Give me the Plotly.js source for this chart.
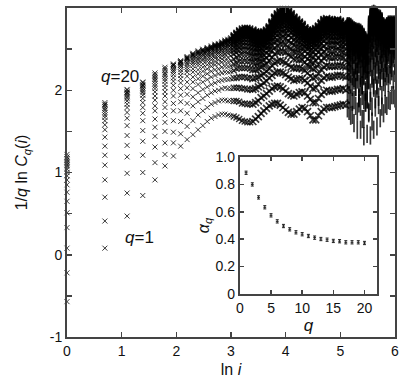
<!DOCTYPE html>
<html>
<head>
<meta charset="utf-8">
<script src="https://cdn.plot.ly/plotly-3.0.1.min.js"></script>
<style>html,body{margin:0;padding:0;background:#fff;}#chart{width:400px;height:384px;}</style>
</head>
<body>
<div id="chart"></div>
<script>
// x positions: ln i
const lnI = [0, 0.693, 1.099, 1.386, 1.609, 1.792, 1.946, 2.079, 2.197, 2.303, 2.398, 2.485, 2.565, 2.639, 2.708, 2.773, 2.833, 2.890, 2.944, 2.996,
 3.05, 3.10, 3.15, 3.20, 3.25, 3.30, 3.35, 3.40, 3.45, 3.50, 3.55, 3.60, 3.65, 3.70, 3.75, 3.80, 3.85, 3.90, 3.95, 4.00, 4.05, 4.10, 4.15, 4.20, 4.25, 4.30, 4.35, 4.40, 4.45, 4.50, 4.55, 4.60, 4.65, 4.70, 4.75, 4.80, 4.85, 4.90, 4.95, 5.00, 5.05, 5.10,
 5.13, 5.16, 5.19, 5.22, 5.25, 5.28, 5.31, 5.34, 5.37, 5.40, 5.43, 5.46, 5.49, 5.52, 5.55, 5.58, 5.61, 5.64, 5.67, 5.70, 5.73, 5.76, 5.79, 5.82, 5.85, 5.88, 5.91, 5.94, 5.97, 6.00];

// 1/q ln Cq(i) for q = 1..20
const q1 = [-0.57, 0.08, 0.47, 0.72, 0.91, 1.08, 1.20, 1.32, 1.40, 1.46, 1.52, 1.57, 1.62, 1.66, 1.68, 1.70, 1.71, 1.71, 1.70, 1.69,
 1.68, 1.67, 1.65, 1.63, 1.62, 1.61, 1.61, 1.62, 1.65, 1.68, 1.72, 1.75, 1.78, 1.81, 1.83, 1.84, 1.84, 1.82, 1.79, 1.76, 1.73, 1.71, 1.71, 1.74, 1.77, 1.79, 1.78, 1.74, 1.69, 1.64, 1.64, 1.69, 1.74, 1.77, 1.79, 1.79, 1.79, 1.80, 1.81, 1.82, 1.83, 1.82,
 1.78, 1.75, 1.69, 1.70, 1.60, 1.81, 1.52, 1.84, 1.52, 1.65, 1.44, 1.85, 1.47, 1.74, 1.45, 1.62, 1.52, 1.89, 1.56, 1.82, 1.66, 1.80, 1.72, 1.83, 1.81, 1.88, 1.87, 1.94, 1.94, 1.90];
const q2 = [-0.22, 0.41, 0.75, 1.00, 1.12, 1.22, 1.36, 1.47, 1.56, 1.63, 1.70, 1.75, 1.79, 1.83, 1.85, 1.87, 1.88, 1.88, 1.87, 1.87,
 1.87, 1.87, 1.86, 1.84, 1.84, 1.83, 1.83, 1.83, 1.85, 1.87, 1.91, 1.93, 1.96, 1.99, 2.02, 2.04, 2.05, 2.04, 2.02, 1.99, 1.96, 1.94, 1.93, 1.95, 1.97, 1.98, 1.97, 1.93, 1.89, 1.85, 1.85, 1.90, 1.95, 1.98, 2.00, 1.99, 1.99, 2.00, 2.01, 2.01, 2.02, 2.00,
 1.97, 1.94, 1.90, 1.86, 1.88, 2.04, 1.74, 1.91, 1.80, 1.93, 1.65, 1.85, 1.89, 1.72, 1.87, 1.80, 2.03, 1.79, 2.02, 1.92, 2.11, 1.94, 2.10, 2.04, 2.17, 2.09, 2.18, 2.23, 2.13, 2.30];
const q3 = [0.08, 0.70, 0.99, 1.21, 1.31, 1.36, 1.49, 1.62, 1.72, 1.81, 1.86, 1.90, 1.94, 1.97, 1.99, 2.00, 2.02, 2.03, 2.02, 2.02,
 2.03, 2.03, 2.03, 2.02, 2.02, 2.01, 2.01, 2.01, 2.02, 2.04, 2.06, 2.09, 2.11, 2.15, 2.18, 2.21, 2.22, 2.22, 2.21, 2.19, 2.16, 2.14, 2.12, 2.13, 2.14, 2.14, 2.12, 2.09, 2.05, 2.02, 2.03, 2.07, 2.12, 2.15, 2.17, 2.16, 2.16, 2.17, 2.18, 2.18, 2.17, 2.16,
 2.13, 2.10, 2.07, 2.04, 2.15, 2.04, 2.13, 1.90, 2.04, 2.06, 1.88, 1.98, 1.89, 2.12, 1.97, 2.14, 2.06, 2.19, 2.06, 2.19, 2.15, 2.24, 2.16, 2.21, 2.27, 2.20, 2.38, 2.27, 2.44, 2.21];
const q4 = [0.33, 0.91, 1.19, 1.38, 1.44, 1.50, 1.63, 1.75, 1.84, 1.92, 1.97, 2.01, 2.04, 2.07, 2.09, 2.11, 2.12, 2.13, 2.13, 2.14,
 2.15, 2.15, 2.16, 2.16, 2.16, 2.15, 2.15, 2.14, 2.15, 2.16, 2.18, 2.20, 2.23, 2.26, 2.30, 2.33, 2.35, 2.36, 2.35, 2.33, 2.31, 2.28, 2.27, 2.27, 2.27, 2.26, 2.24, 2.21, 2.17, 2.15, 2.16, 2.20, 2.25, 2.28, 2.30, 2.29, 2.29, 2.29, 2.30, 2.30, 2.29, 2.28,
 2.25, 2.23, 2.20, 2.17, 2.12, 2.22, 2.22, 2.08, 2.15, 2.06, 2.18, 2.00, 2.11, 2.13, 2.28, 2.18, 2.28, 2.23, 2.31, 2.25, 2.31, 2.33, 2.24, 2.38, 2.30, 2.46, 2.31, 2.45, 2.39, 2.48];
const q5 = [0.51, 1.09, 1.33, 1.51, 1.55, 1.61, 1.75, 1.86, 1.95, 2.02, 2.07, 2.10, 2.13, 2.16, 2.18, 2.20, 2.21, 2.22, 2.22, 2.23,
 2.24, 2.26, 2.27, 2.27, 2.27, 2.27, 2.26, 2.25, 2.25, 2.26, 2.28, 2.30, 2.32, 2.36, 2.40, 2.44, 2.46, 2.47, 2.47, 2.46, 2.43, 2.41, 2.38, 2.38, 2.37, 2.37, 2.34, 2.30, 2.28, 2.26, 2.27, 2.31, 2.36, 2.39, 2.41, 2.40, 2.39, 2.40, 2.41, 2.40, 2.39, 2.37,
 2.35, 2.33, 2.31, 2.28, 2.26, 2.30, 2.23, 2.32, 2.18, 2.26, 2.17, 2.24, 2.12, 2.31, 2.33, 2.40, 2.36, 2.39, 2.41, 2.35, 2.47, 2.38, 2.46, 2.33, 2.45, 2.43, 2.53, 2.41, 2.51, 2.53];
const q6 = [0.65, 1.21, 1.45, 1.63, 1.65, 1.70, 1.84, 1.94, 2.03, 2.10, 2.14, 2.17, 2.20, 2.23, 2.25, 2.26, 2.28, 2.29, 2.29, 2.30,
 2.32, 2.33, 2.35, 2.35, 2.36, 2.35, 2.35, 2.34, 2.33, 2.34, 2.35, 2.37, 2.39, 2.43, 2.48, 2.52, 2.54, 2.56, 2.56, 2.55, 2.52, 2.50, 2.47, 2.46, 2.45, 2.44, 2.41, 2.38, 2.35, 2.34, 2.36, 2.39, 2.44, 2.47, 2.49, 2.48, 2.47, 2.48, 2.49, 2.48, 2.46, 2.45,
 2.43, 2.41, 2.39, 2.36, 2.44, 2.31, 2.38, 2.31, 2.37, 2.26, 2.30, 2.24, 2.26, 2.35, 2.45, 2.48, 2.43, 2.52, 2.45, 2.54, 2.43, 2.51, 2.45, 2.51, 2.42, 2.53, 2.56, 2.49, 2.55, 2.50];
const q7 = [0.76, 1.32, 1.57, 1.72, 1.75, 1.79, 1.93, 2.02, 2.10, 2.16, 2.20, 2.23, 2.26, 2.29, 2.31, 2.32, 2.34, 2.35, 2.35, 2.36,
 2.38, 2.40, 2.42, 2.43, 2.43, 2.43, 2.42, 2.41, 2.40, 2.40, 2.42, 2.43, 2.45, 2.49, 2.54, 2.59, 2.61, 2.63, 2.64, 2.63, 2.60, 2.58, 2.55, 2.53, 2.52, 2.51, 2.48, 2.44, 2.42, 2.41, 2.43, 2.46, 2.51, 2.54, 2.56, 2.55, 2.54, 2.55, 2.56, 2.54, 2.53, 2.51,
 2.49, 2.48, 2.46, 2.43, 2.43, 2.47, 2.38, 2.42, 2.38, 2.39, 2.33, 2.32, 2.31, 2.42, 2.56, 2.52, 2.61, 2.51, 2.58, 2.54, 2.60, 2.50, 2.54, 2.55, 2.50, 2.57, 2.55, 2.63, 2.55, 2.61];
const q8 = [0.85, 1.43, 1.66, 1.79, 1.81, 1.86, 2.00, 2.09, 2.17, 2.22, 2.25, 2.28, 2.31, 2.33, 2.35, 2.37, 2.38, 2.40, 2.40, 2.42,
 2.44, 2.46, 2.48, 2.49, 2.49, 2.49, 2.48, 2.47, 2.46, 2.46, 2.47, 2.48, 2.51, 2.54, 2.60, 2.64, 2.67, 2.69, 2.70, 2.69, 2.67, 2.64, 2.61, 2.60, 2.58, 2.56, 2.53, 2.50, 2.48, 2.47, 2.49, 2.52, 2.57, 2.60, 2.62, 2.61, 2.60, 2.60, 2.61, 2.60, 2.58, 2.56,
 2.55, 2.54, 2.52, 2.49, 2.52, 2.47, 2.49, 2.45, 2.45, 2.44, 2.38, 2.40, 2.33, 2.56, 2.55, 2.63, 2.62, 2.66, 2.58, 2.63, 2.65, 2.57, 2.58, 2.54, 2.62, 2.58, 2.64, 2.61, 2.66, 2.60];
const q9 = [0.91, 1.52, 1.73, 1.85, 1.88, 1.93, 2.06, 2.14, 2.22, 2.26, 2.30, 2.32, 2.35, 2.37, 2.39, 2.41, 2.42, 2.44, 2.45, 2.46,
 2.48, 2.50, 2.52, 2.54, 2.54, 2.54, 2.53, 2.52, 2.51, 2.51, 2.51, 2.53, 2.55, 2.59, 2.64, 2.69, 2.72, 2.74, 2.75, 2.75, 2.73, 2.70, 2.67, 2.65, 2.63, 2.61, 2.57, 2.54, 2.52, 2.52, 2.54, 2.57, 2.62, 2.65, 2.67, 2.66, 2.65, 2.65, 2.66, 2.65, 2.62, 2.61,
 2.59, 2.58, 2.57, 2.54, 2.53, 2.53, 2.52, 2.49, 2.52, 2.46, 2.48, 2.39, 2.41, 2.56, 2.68, 2.64, 2.70, 2.70, 2.65, 2.68, 2.65, 2.68, 2.59, 2.62, 2.61, 2.66, 2.63, 2.67, 2.65, 2.68];
const q10 = [0.96, 1.58, 1.79, 1.90, 1.93, 1.98, 2.11, 2.18, 2.25, 2.30, 2.33, 2.36, 2.38, 2.40, 2.42, 2.44, 2.45, 2.47, 2.48, 2.49,
 2.52, 2.54, 2.56, 2.58, 2.58, 2.58, 2.57, 2.56, 2.55, 2.54, 2.55, 2.56, 2.58, 2.62, 2.68, 2.73, 2.76, 2.78, 2.80, 2.79, 2.77, 2.74, 2.71, 2.69, 2.67, 2.64, 2.61, 2.58, 2.56, 2.56, 2.58, 2.61, 2.65, 2.69, 2.70, 2.69, 2.69, 2.69, 2.70, 2.68, 2.66, 2.64,
 2.63, 2.62, 2.60, 2.58, 2.58, 2.56, 2.55, 2.54, 2.53, 2.51, 2.49, 2.45, 2.43, 2.61, 2.70, 2.72, 2.73, 2.73, 2.72, 2.71, 2.70, 2.68, 2.64, 2.63, 2.65, 2.67, 2.68, 2.68, 2.69, 2.68];
const q11 = [1.00, 1.63, 1.83, 1.94, 1.98, 2.03, 2.15, 2.22, 2.28, 2.33, 2.36, 2.38, 2.41, 2.43, 2.45, 2.46, 2.48, 2.50, 2.51, 2.52,
 2.55, 2.57, 2.60, 2.61, 2.62, 2.62, 2.61, 2.59, 2.58, 2.57, 2.58, 2.59, 2.61, 2.65, 2.71, 2.76, 2.79, 2.82, 2.83, 2.83, 2.81, 2.78, 2.74, 2.72, 2.70, 2.67, 2.64, 2.61, 2.59, 2.59, 2.61, 2.64, 2.69, 2.72, 2.74, 2.73, 2.72, 2.72, 2.73, 2.71, 2.69, 2.67,
 2.66, 2.65, 2.64, 2.61, 2.61, 2.59, 2.58, 2.58, 2.57, 2.55, 2.52, 2.48, 2.46, 2.65, 2.74, 2.76, 2.77, 2.76, 2.75, 2.74, 2.74, 2.71, 2.67, 2.65, 2.68, 2.70, 2.70, 2.71, 2.71, 2.71];
const q12 = [1.04, 1.67, 1.87, 1.97, 2.02, 2.07, 2.19, 2.25, 2.31, 2.35, 2.38, 2.41, 2.43, 2.45, 2.47, 2.48, 2.50, 2.52, 2.53, 2.55,
 2.57, 2.60, 2.62, 2.64, 2.65, 2.65, 2.64, 2.62, 2.60, 2.60, 2.60, 2.61, 2.64, 2.67, 2.73, 2.79, 2.82, 2.85, 2.86, 2.86, 2.84, 2.81, 2.77, 2.75, 2.72, 2.70, 2.66, 2.63, 2.62, 2.62, 2.64, 2.67, 2.71, 2.75, 2.76, 2.75, 2.74, 2.75, 2.76, 2.74, 2.71, 2.69,
 2.68, 2.68, 2.66, 2.64, 2.63, 2.62, 2.61, 2.60, 2.59, 2.57, 2.54, 2.51, 2.48, 2.68, 2.77, 2.79, 2.80, 2.79, 2.78, 2.77, 2.76, 2.74, 2.69, 2.67, 2.70, 2.72, 2.72, 2.73, 2.73, 2.73];
const q13 = [1.07, 1.70, 1.90, 1.99, 2.05, 2.11, 2.22, 2.28, 2.33, 2.37, 2.40, 2.43, 2.45, 2.47, 2.49, 2.50, 2.52, 2.54, 2.55, 2.56,
 2.59, 2.62, 2.64, 2.66, 2.67, 2.67, 2.66, 2.64, 2.63, 2.62, 2.62, 2.63, 2.65, 2.69, 2.75, 2.81, 2.84, 2.87, 2.89, 2.88, 2.86, 2.83, 2.80, 2.77, 2.75, 2.72, 2.68, 2.65, 2.64, 2.64, 2.66, 2.69, 2.73, 2.77, 2.78, 2.77, 2.77, 2.77, 2.78, 2.76, 2.73, 2.71,
 2.70, 2.70, 2.68, 2.66, 2.65, 2.64, 2.63, 2.62, 2.61, 2.59, 2.57, 2.53, 2.50, 2.70, 2.80, 2.82, 2.83, 2.82, 2.81, 2.79, 2.78, 2.76, 2.71, 2.69, 2.71, 2.73, 2.74, 2.74, 2.74, 2.74];
const q14 = [1.09, 1.73, 1.92, 2.01, 2.08, 2.14, 2.24, 2.30, 2.35, 2.39, 2.42, 2.44, 2.47, 2.49, 2.51, 2.52, 2.54, 2.56, 2.56, 2.58,
 2.61, 2.64, 2.67, 2.68, 2.69, 2.69, 2.68, 2.66, 2.65, 2.64, 2.64, 2.65, 2.67, 2.71, 2.77, 2.83, 2.87, 2.89, 2.91, 2.91, 2.89, 2.86, 2.82, 2.79, 2.77, 2.74, 2.70, 2.67, 2.66, 2.66, 2.68, 2.71, 2.76, 2.80, 2.81, 2.80, 2.79, 2.79, 2.80, 2.78, 2.75, 2.73,
 2.72, 2.72, 2.71, 2.68, 2.67, 2.66, 2.65, 2.65, 2.64, 2.62, 2.59, 2.55, 2.52, 2.73, 2.82, 2.84, 2.85, 2.84, 2.83, 2.81, 2.81, 2.78, 2.73, 2.71, 2.73, 2.75, 2.75, 2.76, 2.76, 2.76];
const q15 = [1.11, 1.76, 1.94, 2.03, 2.11, 2.17, 2.26, 2.31, 2.37, 2.41, 2.44, 2.46, 2.48, 2.50, 2.52, 2.53, 2.55, 2.57, 2.58, 2.60,
 2.63, 2.65, 2.68, 2.70, 2.71, 2.71, 2.70, 2.68, 2.66, 2.65, 2.66, 2.67, 2.69, 2.73, 2.79, 2.84, 2.88, 2.91, 2.93, 2.93, 2.91, 2.88, 2.84, 2.81, 2.78, 2.76, 2.72, 2.69, 2.67, 2.68, 2.70, 2.73, 2.77, 2.81, 2.82, 2.81, 2.80, 2.80, 2.81, 2.79, 2.77, 2.75,
 2.74, 2.73, 2.72, 2.70, 2.69, 2.68, 2.66, 2.66, 2.65, 2.63, 2.60, 2.57, 2.54, 2.75, 2.84, 2.86, 2.87, 2.86, 2.85, 2.83, 2.82, 2.80, 2.74, 2.72, 2.74, 2.76, 2.77, 2.77, 2.77, 2.77];
const q16 = [1.13, 1.78, 1.96, 2.05, 2.13, 2.19, 2.28, 2.33, 2.38, 2.42, 2.45, 2.47, 2.49, 2.51, 2.53, 2.54, 2.56, 2.58, 2.59, 2.61,
 2.64, 2.67, 2.69, 2.71, 2.72, 2.72, 2.71, 2.69, 2.68, 2.67, 2.67, 2.68, 2.70, 2.74, 2.80, 2.86, 2.89, 2.92, 2.94, 2.94, 2.92, 2.89, 2.85, 2.82, 2.80, 2.77, 2.73, 2.70, 2.69, 2.69, 2.71, 2.74, 2.78, 2.82, 2.83, 2.82, 2.81, 2.82, 2.83, 2.81, 2.78, 2.76,
 2.75, 2.75, 2.73, 2.71, 2.70, 2.69, 2.68, 2.67, 2.66, 2.64, 2.61, 2.58, 2.55, 2.76, 2.86, 2.88, 2.89, 2.88, 2.86, 2.84, 2.83, 2.81, 2.75, 2.73, 2.75, 2.77, 2.77, 2.78, 2.78, 2.78];
const q17 = [1.15, 1.80, 1.97, 2.06, 2.15, 2.21, 2.30, 2.34, 2.39, 2.43, 2.46, 2.48, 2.50, 2.52, 2.54, 2.55, 2.57, 2.59, 2.60, 2.62,
 2.65, 2.68, 2.71, 2.72, 2.73, 2.73, 2.72, 2.70, 2.69, 2.68, 2.68, 2.69, 2.71, 2.75, 2.81, 2.87, 2.90, 2.93, 2.95, 2.95, 2.93, 2.90, 2.86, 2.83, 2.81, 2.78, 2.74, 2.71, 2.70, 2.70, 2.72, 2.75, 2.80, 2.83, 2.84, 2.83, 2.83, 2.83, 2.84, 2.82, 2.79, 2.77,
 2.76, 2.76, 2.74, 2.72, 2.71, 2.70, 2.69, 2.68, 2.67, 2.66, 2.63, 2.59, 2.56, 2.77, 2.87, 2.89, 2.90, 2.89, 2.87, 2.85, 2.85, 2.82, 2.76, 2.74, 2.76, 2.78, 2.78, 2.78, 2.78, 2.78];
const q18 = [1.17, 1.82, 1.98, 2.07, 2.17, 2.24, 2.30, 2.34, 2.39, 2.43, 2.46, 2.48, 2.50, 2.52, 2.54, 2.55, 2.57, 2.59, 2.60, 2.62,
 2.65, 2.68, 2.71, 2.73, 2.74, 2.74, 2.73, 2.71, 2.69, 2.68, 2.68, 2.69, 2.71, 2.75, 2.81, 2.87, 2.91, 2.94, 2.96, 2.96, 2.94, 2.91, 2.87, 2.84, 2.81, 2.78, 2.74, 2.71, 2.70, 2.71, 2.73, 2.76, 2.80, 2.84, 2.85, 2.84, 2.83, 2.83, 2.84, 2.82, 2.79, 2.77,
 2.76, 2.76, 2.75, 2.73, 2.71, 2.70, 2.69, 2.69, 2.68, 2.66, 2.63, 2.59, 2.56, 2.78, 2.88, 2.90, 2.91, 2.90, 2.88, 2.86, 2.85, 2.82, 2.76, 2.74, 2.76, 2.78, 2.78, 2.78, 2.78, 2.78];
const q19 = [1.19, 1.83, 2.00, 2.09, 2.19, 2.26, 2.31, 2.35, 2.40, 2.44, 2.47, 2.49, 2.51, 2.53, 2.55, 2.56, 2.58, 2.60, 2.61, 2.63,
 2.66, 2.69, 2.72, 2.74, 2.75, 2.75, 2.74, 2.72, 2.70, 2.69, 2.69, 2.70, 2.72, 2.76, 2.82, 2.88, 2.92, 2.95, 2.97, 2.97, 2.95, 2.92, 2.88, 2.85, 2.82, 2.79, 2.75, 2.72, 2.71, 2.72, 2.74, 2.77, 2.81, 2.85, 2.86, 2.85, 2.84, 2.84, 2.85, 2.83, 2.80, 2.78,
 2.77, 2.77, 2.76, 2.74, 2.72, 2.71, 2.70, 2.70, 2.69, 2.67, 2.64, 2.60, 2.57, 2.79, 2.89, 2.91, 2.92, 2.91, 2.89, 2.87, 2.86, 2.83, 2.77, 2.75, 2.77, 2.79, 2.79, 2.79, 2.79, 2.79];
const q20 = [1.22, 1.85, 2.01, 2.10, 2.21, 2.28, 2.32, 2.36, 2.41, 2.45, 2.48, 2.50, 2.52, 2.54, 2.56, 2.57, 2.59, 2.61, 2.62, 2.64,
 2.67, 2.70, 2.73, 2.75, 2.76, 2.76, 2.75, 2.73, 2.71, 2.70, 2.70, 2.71, 2.73, 2.77, 2.83, 2.89, 2.93, 2.96, 2.98, 2.98, 2.96, 2.93, 2.89, 2.86, 2.83, 2.80, 2.76, 2.73, 2.72, 2.73, 2.75, 2.78, 2.82, 2.86, 2.87, 2.86, 2.85, 2.85, 2.86, 2.84, 2.81, 2.79,
 2.78, 2.78, 2.77, 2.75, 2.73, 2.72, 2.71, 2.71, 2.70, 2.68, 2.65, 2.61, 2.58, 2.80, 2.90, 2.92, 2.93, 2.92, 2.90, 2.88, 2.87, 2.84, 2.78, 2.76, 2.78, 2.80, 2.80, 2.80, 2.80, 2.80];

// inset: alpha_q vs q
const qVals = [1, 2, 3, 4, 5, 6, 7, 8, 9, 10, 11, 12, 13, 14, 15, 16, 17, 18, 19, 20];
const alphaQ = [0.885, 0.80, 0.705, 0.633, 0.574, 0.53, 0.496, 0.472, 0.45, 0.436, 0.423, 0.411, 0.401, 0.396, 0.387, 0.385, 0.377, 0.377, 0.377, 0.372];
const alphaErr = [0.012, 0.012, 0.012, 0.012, 0.012, 0.012, 0.012, 0.012, 0.012, 0.012, 0.012, 0.012, 0.012, 0.012, 0.012, 0.012, 0.012, 0.012, 0.012, 0.012];

const seriesList = [q1, q2, q3, q4, q5, q6, q7, q8, q9, q10, q11, q12, q13, q14, q15, q16, q17, q18, q19, q20];

const FONT = 'Liberation Sans, Arial, sans-serif';
const AX = '#444';

// marker styling by region: sparse crosses, dense crosses, noisy tail drawn as vertical streaks
const mSymbol = lnI.map(x => x < 5.12 ? 'x-thin-open' : 'line-ns-open');
const mSize = lnI.map(x => x < 3.0 ? 5 : (x < 3.4 ? 6 : (x < 5.12 ? 7 : 13)));
const mLine = lnI.map(x => x < 3.0 ? 1 : (x < 3.4 ? 1.4 : 1.7));

const traces = seriesList.map((ys, k) => ({
  type: 'scatter', mode: 'markers', x: lnI, y: ys, name: 'q=' + (k + 1),
  xaxis: 'x', yaxis: 'y', cliponaxis: false, hoverinfo: 'skip',
  marker: { symbol: mSymbol, size: mSize, opacity: 0.78, color: '#000', line: { width: mLine, color: '#000' } }
}));

traces.push({
  type: 'scatter', mode: 'markers', x: qVals, y: alphaQ, xaxis: 'x2', yaxis: 'y2',
  marker: { symbol: 'line-ew-open', size: 2, color: '#222', line: { width: 1, color: '#222' } },
  error_y: { type: 'data', array: alphaErr, visible: true, color: '#222', thickness: 1, width: 1.5 },
  cliponaxis: false
});

const axisBase = {
  showline: true, linecolor: AX, linewidth: 2, mirror: 'ticks',
  ticks: 'inside', ticklen: 5, tickwidth: 1.5, tickcolor: AX,
  showgrid: false, zeroline: false,
  tickfont: { family: FONT, size: 14, color: '#111' }
};

const layout = {
  width: 400, height: 384,
  margin: { l: 67, r: 5, t: 8, b: 47 },
  paper_bgcolor: '#fff', plot_bgcolor: '#fff',
  showlegend: false,
  font: { family: FONT, color: '#111' },
  xaxis: Object.assign({}, axisBase, {
    range: [0, 6], tickvals: [0, 1, 2, 3, 4, 5, 6], domain: [0, 1], anchor: 'y',
    title: { text: 'ln <i>i</i>', font: { family: FONT, size: 16, color: '#111' }, standoff: 6 }
  }),
  yaxis: Object.assign({}, axisBase, {
    range: [-1, 3], domain: [0, 1], anchor: 'x',
    tickvals: [-1, -0.5, 0, 0.5, 1, 1.5, 2, 2.5, 3],
    ticktext: ['-1', ' ', '0', ' ', '1', ' ', '2', ' ', '3'],
    title: { text: '1/<i>q</i> ln <i>C<sub>q</sub></i>(<i>i</i>)', font: { family: FONT, size: 16, color: '#111' }, standoff: 18 }
  }),
  xaxis2: Object.assign({}, axisBase, {
    domain: [0.527, 0.945], anchor: 'y2', range: [0, 22],
    tickvals: [0, 5, 10, 15, 20], ticklen: 4,
    title: { text: '<i>q</i>', font: { family: FONT, size: 17, color: '#111' }, standoff: 0 }
  }),
  yaxis2: Object.assign({}, axisBase, {
    domain: [0.131, 0.547], anchor: 'x2', range: [0, 1],
    tickvals: [0, 0.2, 0.4, 0.6, 0.8, 1.0], ticklen: 4,
    ticktext: ['0', '0.2', '0.4', '0.6', '0.8', '1.0'],
    title: { text: '<i>α<sub>q</sub></i>', font: { family: FONT, size: 16, color: '#111' }, standoff: 2 }
  }),
  annotations: [
    { xref: 'x', yref: 'y', x: 0.97, y: 2.17, text: '<i>q</i>=20', showarrow: false, font: { family: FONT, size: 17, color: '#111' } },
    { xref: 'x', yref: 'y', x: 1.32, y: 0.21, text: '<i>q</i>=1', showarrow: false, font: { family: FONT, size: 17, color: '#111' } }
  ]
};

Plotly.newPlot('chart', traces, layout, { staticPlot: true, displayModeBar: false });
</script>
</body>
</html>
